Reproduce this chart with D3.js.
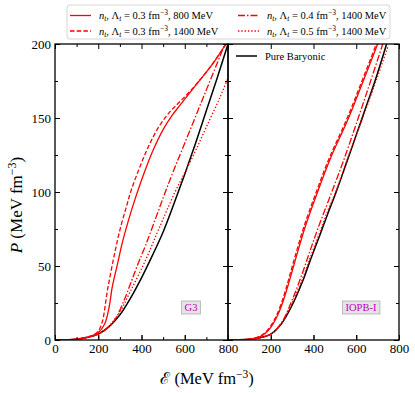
<!DOCTYPE html>
<html>
<head>
<meta charset="utf-8">
<script src="https://cdn.jsdelivr.net/npm/d3@7"></script>
<style>
  body { margin: 0; background: #fff; }
  svg { display: block; }
</style>
</head>
<body>
<svg id="chart" width="415" height="393"></svg>
<script>
// ---- data: G3 panel (energy density E, pressure P) ----
const g3BaryE = [0, 50, 100, 150, 200, 250, 300, 350, 400, 450, 500, 550, 600, 650, 700, 750, 800];
const g3BaryP = [0, 0.1, 0.5, 1.8, 4, 9, 17, 28.5, 42, 57, 73, 92, 112, 133, 155, 177, 200];
const g3SolidE = [0, 50, 100, 150, 200, 230, 250, 265, 290, 310, 340, 372, 410, 456, 503, 540, 580, 650, 736, 790];
const g3SolidP = [0, 0.1, 0.5, 1.8, 5, 11, 22, 36, 52, 65, 81, 96, 112, 129, 143, 151.5, 159, 172, 188, 200];
const g3DashE = [0, 50, 100, 150, 194, 217, 243, 275, 303, 330, 352, 390, 433, 480, 530, 581, 630, 689, 740, 792];
const g3DashP = [0, 0.1, 0.5, 2, 5, 11.5, 34, 58, 76, 90, 101, 116, 131, 144, 154, 161.5, 169, 179, 189, 200];
const g3DashDotE = [0, 100, 200, 250, 282, 320, 349, 380, 419, 460, 505, 550, 600, 650, 700, 750, 785];
const g3DashDotP = [0, 0.5, 4, 9, 15, 27, 38, 50, 64, 80, 98, 115, 133, 151, 169, 187, 200];
const g3DotE = [0, 100, 200, 250, 300, 349, 419, 480, 555, 600, 650, 700, 760, 800];
const g3DotP = [0, 0.5, 4, 9.5, 19, 33, 54, 75, 100, 113, 128, 144, 163, 177];

// ---- data: IOPB-I panel ----
const iopBaryE = [0, 50, 100, 150, 200, 250, 300, 350, 388, 430, 466, 506, 560, 630, 690, 742];
const iopBaryP = [0, 0.1, 0.5, 1.5, 4, 11, 23.5, 40, 55, 71, 85, 100, 122, 151, 176, 200];
const iopSolidE = [0, 50, 100, 150, 175, 200, 225, 250, 275, 311, 360, 419, 480, 561, 630, 700];
const iopSolidP = [0, 0.1, 0.6, 2.3, 4.5, 8.5, 14.5, 23, 34, 52, 76, 100, 123, 149, 174, 200];
const iopDashE = [0, 50, 100, 145, 170, 195, 220, 245, 270, 305, 354, 413, 474, 555, 624, 694];
const iopDashP = [0, 0.1, 0.6, 2.3, 4.5, 8.5, 14.5, 23, 34, 52, 76, 100, 123, 149, 174, 200];
const iopDashDotE = [0, 100, 150, 200, 250, 300, 350, 388, 430, 483, 540, 607, 665, 724];
const iopDashDotP = [0, 0.5, 1.6, 4, 11.5, 27, 46, 62, 79, 99, 121, 149, 174, 200];
const iopDotE = [0, 100, 200, 250, 300, 350, 388, 430, 466, 506, 560, 630, 690, 750];
const iopDotP = [0, 0.5, 4, 11.5, 25, 42, 57, 73, 87, 101, 123, 150, 174, 199];

// ---- ticks & labels ----
const xMajor = [0, 200, 400, 600, 800];
const xMajorRight = [200, 400, 600, 800];
const xMinor = [100, 300, 500, 700];
const yMajor = [0, 50, 100, 150, 200];
const yMinor = [25, 75, 125, 175];
const legendLabels = [
  ["0.3", "800"],
  ["0.3", "1400"],
  ["0.4", "1400"],
  ["0.5", "1400"]
];
const panelNames = ["G3", "IOPB-I"];

const serif = "'Liberation Serif', 'DejaVu Serif', serif";
const red = "#ff0000";
const styles = [
  {dash: null},
  {dash: "4.5,2.2"},
  {dash: "7,2,1.5,2"},
  {dash: "1.4,1.9"}
];

const svg = d3.select("#chart");
const plotTop = 44, plotBottom = 340;
const y = d3.scaleLinear().domain([0, 200]).range([plotBottom, plotTop]);
const xL = d3.scaleLinear().domain([0, 800]).range([55, 228]);
const xR = d3.scaleLinear().domain([0, 800]).range([228, 399]);

const panels = [
  {x: xL, name: panelNames[0],
   bary: [g3BaryE, g3BaryP],
   red: [[g3SolidE, g3SolidP], [g3DashE, g3DashP], [g3DashDotE, g3DashDotP], [g3DotE, g3DotP]]},
  {x: xR, name: panelNames[1],
   bary: [iopBaryE, iopBaryP],
   red: [[iopSolidE, iopSolidP], [iopDashE, iopDashP], [iopDashDotE, iopDashDotP], [iopDotE, iopDotP]]}
];

const zip = (a, b) => a.map((v, i) => [v, b[i]]);

panels.forEach((p, pi) => {
  const x = p.x;
  const [x0, x1] = x.range();
  const clipId = "clip" + pi;
  svg.append("clipPath").attr("id", clipId)
    .append("rect").attr("x", x0).attr("y", plotTop).attr("width", x1 - x0).attr("height", plotBottom - plotTop);

  const line = d3.line().x(d => x(d[0])).y(d => y(Math.max(0, d[1]))).curve(d3.curveCatmullRom.alpha(0.5));
  const g = svg.append("g").attr("clip-path", `url(#${clipId})`);

  g.append("path").datum(zip(p.bary[0], p.bary[1]))
    .attr("d", line).attr("fill", "none").attr("stroke", "#000").attr("stroke-width", 1.5);

  p.red.forEach((s, i) => {
    g.append("path").datum(zip(s[0], s[1]))
      .attr("d", line).attr("fill", "none").attr("stroke", red).attr("stroke-width", 1.3)
      .attr("stroke-dasharray", styles[i].dash);
  });

  // ticks
  const minorX = pi === 0 ? xMinor : [];
  const ax = (axis, vals, size, tx, ty, labels) => {
    const a = axis.tickValues(vals).tickSizeInner(-size).tickSizeOuter(0).tickPadding(4);
    if (!labels) a.tickFormat("");
    const gg = svg.append("g").attr("transform", `translate(${tx},${ty})`).call(a);
    gg.select(".domain").remove();
    gg.selectAll("line").attr("stroke", "#000").attr("stroke-width", 1);
    gg.selectAll("text").attr("font-family", serif).attr("font-size", 13).attr("fill", "#000");
    return gg;
  };
  ax(d3.axisBottom(x), xMajor, 5, 0, plotBottom, false);
  ax(d3.axisBottom(x), pi === 0 ? xMajor : xMajorRight, 5, 0, plotBottom, true);
  ax(d3.axisBottom(x), minorX, 3, 0, plotBottom, false);
  ax(d3.axisTop(x), xMajor, 5, 0, plotTop, false);
  ax(d3.axisTop(x), minorX, 3, 0, plotTop, false);
  ax(d3.axisLeft(y), yMajor, 5, x0, 0, pi === 0);
  ax(d3.axisLeft(y), yMinor, 3, x0, 0, false);
  ax(d3.axisRight(y), yMajor, 5, x1, 0, false);
  ax(d3.axisRight(y), yMinor, 3, x1, 0, false);

  svg.append("rect").attr("x", x0).attr("y", plotTop).attr("width", x1 - x0).attr("height", plotBottom - plotTop)
    .attr("fill", "none").attr("stroke", "#000").attr("stroke-width", 1.3);

  // model name box
  const cx = pi === 0 ? 191 : 361;
  const box = svg.append("rect");
  const t = svg.append("text").attr("x", cx).attr("y", 311)
    .attr("text-anchor", "middle").attr("font-family", serif).attr("font-size", 10.5)
    .attr("fill", "#c000c0").text(p.name);
  const bb = t.node().getBBox();
  box.attr("x", bb.x - 3).attr("y", 301).attr("width", bb.width + 6).attr("height", 13)
    .attr("fill", "#e4e4e4").attr("stroke", "#b0b0b0").attr("stroke-width", 0.8);
});

// ---- legend (red models) ----
const leg = svg.append("g");
leg.append("rect").attr("x", 67).attr("y", 5).attr("width", 323).attr("height", 34).attr("rx", 3)
  .attr("fill", "#fff").attr("fill-opacity", 0.85).attr("stroke", "#cccccc").attr("stroke-width", 0.8);

const legPos = [[70, 15.5], [70, 31], [238, 15.5], [238, 31]];
legendLabels.forEach((lab, i) => {
  const [lx, ly] = legPos[i];
  leg.append("line").attr("x1", lx).attr("x2", lx + 21).attr("y1", ly).attr("y2", ly)
    .attr("stroke", red).attr("stroke-width", 1.3).attr("stroke-dasharray", styles[i].dash);
  const t = leg.append("text").attr("x", lx + 29).attr("y", ly + 3.5)
    .attr("font-family", serif).attr("font-size", 10.5).attr("fill", "#000");
  t.append("tspan").attr("font-style", "italic").text("n");
  t.append("tspan").attr("font-style", "italic").attr("font-size", 7.5).attr("dy", 2).text("t");
  t.append("tspan").attr("dy", -2).text(", Λ");
  t.append("tspan").attr("font-style", "italic").attr("font-size", 7.5).attr("dy", 2).text("t");
  t.append("tspan").attr("dy", -2).text(` = ${lab[0]} fm`);
  t.append("tspan").attr("font-size", 7.5).attr("dy", -4).text("−3");
  t.append("tspan").attr("dy", 4).text(`, ${lab[1]} MeV`);
});

// baryonic legend inside right panel
svg.append("line").attr("x1", 236).attr("x2", 257).attr("y1", 56).attr("y2", 56)
  .attr("stroke", "#000").attr("stroke-width", 1.5);
svg.append("text").attr("x", 265).attr("y", 59.5).attr("font-family", serif).attr("font-size", 10.5)
  .text("Pure Baryonic");

// ---- axis titles ----
const xt = svg.append("text").attr("x", 207).attr("y", 384).attr("text-anchor", "middle")
  .attr("font-family", serif).attr("font-size", 16.5);
xt.append("tspan").text("ℰ (MeV fm");
xt.append("tspan").attr("font-size", 11.5).attr("dy", -6).text("−3");
xt.append("tspan").attr("dy", 6).text(")");

const yt = svg.append("text").attr("transform", "translate(22,205) rotate(-90)").attr("text-anchor", "middle")
  .attr("font-family", serif).attr("font-size", 17);
yt.append("tspan").attr("font-style", "italic").text("P");
yt.append("tspan").text(" (MeV fm");
yt.append("tspan").attr("font-size", 12).attr("dy", -6).text("−3");
yt.append("tspan").attr("dy", 6).text(")");
</script>
</body>
</html>
